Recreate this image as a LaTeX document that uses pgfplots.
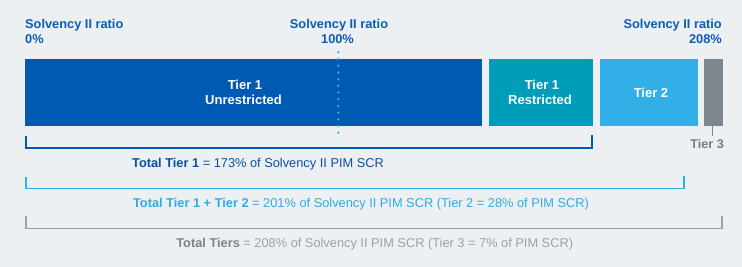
\documentclass[border=0pt]{standalone}
\usepackage{pgfplots}
\pgfplotsset{compat=1.18}
\usepackage{fontspec}
\setmainfont{Liberation Sans}
\definecolor{bg}{HTML}{EDF0F2}
\definecolor{tonu}{HTML}{0059B3}
\definecolor{tonr}{HTML}{009DB9}
\definecolor{ttwo}{HTML}{33AFE8}
\definecolor{tthree}{HTML}{7D8790}
\definecolor{brgray}{HTML}{9BA1A7}
\definecolor{hdblue}{HTML}{0A5DB9}
\definecolor{tblue}{HTML}{0B4FA3}
\definecolor{tlblue}{HTML}{2FAAE4}
\definecolor{tgray}{HTML}{7C838B}
\definecolor{lgray}{HTML}{737C85}
\begin{document}
\begin{tikzpicture}
\begin{axis}[
  x=1pt, y=1pt,
  xmin=0, xmax=742, ymin=0, ymax=267,
  y dir=reverse,
  hide axis,
  clip=false,
]
\fill[bg] (rel axis cs:0,0) rectangle (rel axis cs:1,1);
% bars (pixel layout of the schematic)
\addplot[draw=none, fill=tonu] coordinates {(25,59) (481.5,59) (481.5,126.5) (25,126.5)} -- cycle;
\addplot[draw=none, fill=tonr] coordinates {(488.7,59) (592.7,59) (592.7,126.5) (488.7,126.5)} -- cycle;
\addplot[draw=none, fill=ttwo] coordinates {(600,59) (697.5,59) (697.5,126.5) (600,126.5)} -- cycle;
\addplot[draw=none, fill=tthree] coordinates {(704.3,59) (722.7,59) (722.7,126.5) (704.3,126.5)} -- cycle;
% 100% marker
\addplot[color=ttwo, line width=2.6pt, line cap=round, dash pattern=on 0pt off 6.7pt] coordinates {(338.3,52.3) (338.3,134)};
% tier 3 connector
\addplot[color=tthree, line width=1.3pt] coordinates {(712.7,126.5) (712.7,136.5)};
% brackets
\addplot[color=tonu, line width=1.4pt] coordinates {(25.8,136) (25.8,148.2) (592,148.2) (592,135)};
\addplot[color=ttwo, line width=1.4pt] coordinates {(25.8,176.7) (25.8,188.3) (684,188.3) (684,176)};
\addplot[color=brgray, line width=1.4pt] coordinates {(25.8,216) (25.8,228.2) (722,228.2) (722,215.7)};
% header labels
\tikzset{hd/.style={text=hdblue, font=\bfseries\fontsize{12.8}{15}\selectfont, inner sep=0pt}}
\node[hd, anchor=base west] at (axis cs:25,29) {Solvency II ratio};
\node[hd, anchor=base west] at (axis cs:25,44) {0\%};
\node[hd, anchor=base] at (axis cs:339,29) {Solvency II ratio};
\node[hd, anchor=base] at (axis cs:337.5,44) {100\%};
\node[hd, anchor=base east] at (axis cs:722,29) {Solvency II ratio};
\node[hd, anchor=base east] at (axis cs:722,44) {208\%};
% bar labels
\tikzset{bl/.style={text=white, font=\bfseries\fontsize{13}{15}\selectfont, inner sep=0pt, anchor=base}}
\node[bl] at (axis cs:245,90) {Tier 1};
\node[bl] at (axis cs:243.5,105) {Unrestricted};
\node[bl] at (axis cs:542,90) {Tier 1};
\node[bl] at (axis cs:540,105) {Restricted};
\node[bl] at (axis cs:651,97.7) {Tier 2};
\node[text=lgray, font=\bfseries\fontsize{12.6}{15}\selectfont, inner sep=0pt, anchor=base east] at (axis cs:724,148.3) {Tier 3};
% totals
\tikzset{tt/.style={font=\fontsize{12.8}{15}\selectfont, inner sep=0pt, anchor=base}}
\node[tt, text=tblue] at (axis cs:258,167.7) {\textbf{Total Tier 1} = 173\% of Solvency II PIM SCR};
\node[tt, text=tlblue] at (axis cs:361,207.3) {\textbf{Total Tier 1 + Tier 2} = 201\% of Solvency II PIM SCR (Tier 2 = 28\% of PIM SCR)};
\node[tt, text=tgray] at (axis cs:374.7,247.3) {\textbf{Total Tiers} \textcolor{brgray}{= 208\% of Solvency II PIM SCR (Tier 3 = 7\% of PIM SCR)}};
\end{axis}
\end{tikzpicture}
\end{document}
